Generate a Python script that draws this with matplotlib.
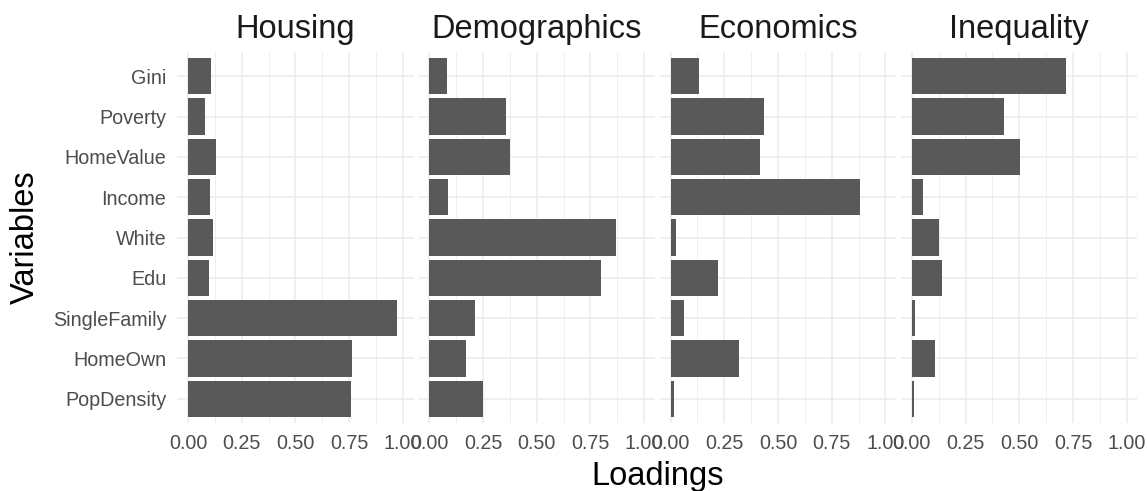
import matplotlib
matplotlib.use("Agg")
import matplotlib.pyplot as plt
import numpy as np
from matplotlib.ticker import MultipleLocator

plt.rcParams['font.family'] = ['Liberation Sans', 'DejaVu Sans']

# Variables listed bottom to top (ggplot discrete order)
variables = ["PopDensity", "HomeOwn", "SingleFamily", "Edu", "White",
             "Income", "HomeValue", "Poverty", "Gini"]
factors = ["Housing", "Demographics", "Economics", "Inequality"]

housing      = [0.759, 0.764, 0.974, 0.098, 0.116, 0.102, 0.130, 0.079, 0.107]
demographics = [0.251, 0.172, 0.214, 0.800, 0.870, 0.088, 0.377, 0.358, 0.084]
economics    = [0.017, 0.320, 0.064, 0.222, 0.027, 0.882, 0.418, 0.436, 0.134]
inequality   = [0.009, 0.107, 0.014, 0.140, 0.126, 0.051, 0.503, 0.429, 0.717]
loadings = [housing, demographics, economics, inequality]

xticks = [0.00, 0.25, 0.50, 0.75, 1.00]
xtick_labels = ["0.00", "0.25", "0.50", "0.75", "1.00"]

W, H = 1147, 491
dpi = 100
fig = plt.figure(figsize=(W / dpi, H / dpi), dpi=dpi)
left, right = 177.3 / W, 1137.4 / W
top, bottom = 1 - 52 / H, 1 - 423 / H
fig.subplots_adjust(left=left, right=right, top=top, bottom=bottom, wspace=0.021)
axes = fig.subplots(1, 4, sharey=True)

ypos = np.arange(len(variables))
for ax, name, vals in zip(axes, factors, loadings):
    ax.set_facecolor("white")
    ax.set_xlim(-0.05, 1.05)
    ax.set_ylim(-0.6, len(variables) - 0.4)
    ax.xaxis.set_major_locator(MultipleLocator(0.25))
    ax.xaxis.set_minor_locator(MultipleLocator(0.125))
    ax.set_xticks(xticks)
    ax.set_xticklabels(xtick_labels)
    ax.grid(which="major", axis="both", color="#EBEBEB", linewidth=1.1, zorder=0)
    ax.grid(which="minor", axis="x", color="#EBEBEB", linewidth=0.55, zorder=0)
    ax.set_axisbelow(True)
    ax.barh(ypos, vals, height=0.9, color="#595959", zorder=2)
    for s in ax.spines.values():
        s.set_visible(False)
    ax.tick_params(which="both", length=0)
    ax.tick_params(axis="x", labelsize=14.2, labelcolor="#4D4D4D", pad=8)
    ax.tick_params(axis="y", labelsize=14.2, labelcolor="#4D4D4D", pad=8)
    ax.set_title(name, fontsize=23.5, color="#1A1A1A", pad=10)

axes[0].set_yticks(ypos)
axes[0].set_yticklabels(variables)

fig.text((left + right) / 2, 1 - 477 / H, "Loadings", ha="center", va="center",
         fontsize=23.5, color="black")
fig.text(25 / W, (top + bottom) / 2, "Variables", ha="center", va="center",
         rotation=90, fontsize=23.5, color="black")

fig.savefig("out.png", dpi=dpi, facecolor="white")
